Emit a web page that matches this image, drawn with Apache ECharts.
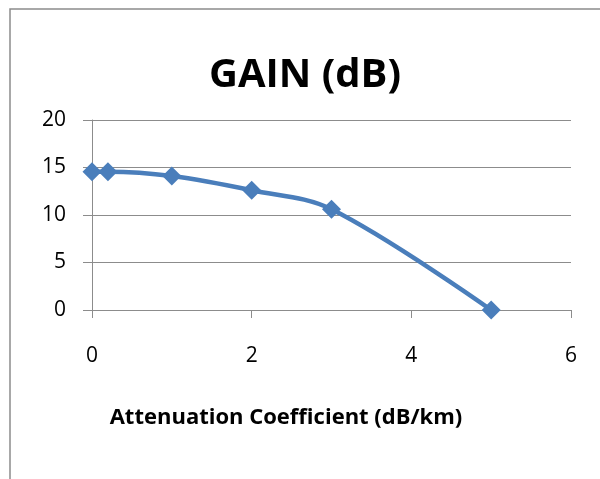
<!DOCTYPE html>
<html>
<head>
<meta charset="utf-8">
<script src="https://cdn.jsdelivr.net/npm/echarts@6/dist/echarts.min.js"></script>
<style>
  html, body { margin: 0; padding: 0; background: #fff; }
  #chart { width: 600px; height: 479px; }
</style>
</head>
<body>
<div id="chart"></div>
<script>
// Attenuation coefficient (dB/km) vs. gain (dB)
const attenuation = [0, 0.2, 1, 2, 3, 5];
const gain = [14.55, 14.55, 14.1, 12.6, 10.6, 0];
const yTicks = { min: 0, max: 20, step: 5 };
const xTicks = { min: 0, max: 6, step: 2 };

const points = attenuation.map((a, i) => [a, gain[i]]);
const font = '"Open Sans", Lato, sans-serif';

const chart = echarts.init(document.getElementById('chart'), null, { renderer: 'canvas' });
chart.setOption({
  backgroundColor: '#fff',
  animation: false,
  title: [
    {
      text: 'GAIN (dB)',
      left: 300, top: 51, textAlign: 'center',
      textStyle: { fontFamily: font, fontWeight: 'bold', fontSize: 40, color: '#000' }
    },
    {
      text: 'Attenuation Coefficient (dB/km)',
      left: 281, top: 402, textAlign: 'center',
      textStyle: { fontFamily: font, fontWeight: 'bold', fontSize: 22, color: '#000' }
    }
  ],
  graphic: [{
    type: 'rect',
    shape: { x: 10, y: 9, width: 620, height: 500 },
    style: { fill: 'none', stroke: '#8c8c8c', lineWidth: 1.5 },
    silent: true
  }],
  grid: { left: 92, right: 29, top: 120, bottom: 169, containLabel: false },
  xAxis: {
    type: 'value',
    min: xTicks.min, max: xTicks.max, interval: xTicks.step,
    axisLine: { show: true, lineStyle: { color: '#8c8c8c', width: 1 } },
    axisTick: { show: true, length: 8, lineStyle: { color: '#8c8c8c' } },
    splitLine: { show: false },
    axisLabel: { margin: 36, fontFamily: font, fontSize: 21, color: '#000' }
  },
  yAxis: {
    type: 'value',
    min: yTicks.min, max: yTicks.max, interval: yTicks.step,
    axisLine: { show: true, lineStyle: { color: '#8c8c8c', width: 1 } },
    axisTick: { show: true, length: 9, lineStyle: { color: '#8c8c8c' } },
    splitLine: { show: true, lineStyle: { color: '#8c8c8c', width: 1 } },
    axisLabel: { margin: 26, fontFamily: font, fontSize: 21, color: '#000' }
  },
  series: [{
    type: 'line',
    data: points,
    smooth: 0.35,
    symbol: 'diamond',
    symbolSize: 19,
    lineStyle: { color: '#4a7ebb', width: 4.5 },
    itemStyle: { color: '#4a7ebb' }
  }]
});
</script>
</body>
</html>
